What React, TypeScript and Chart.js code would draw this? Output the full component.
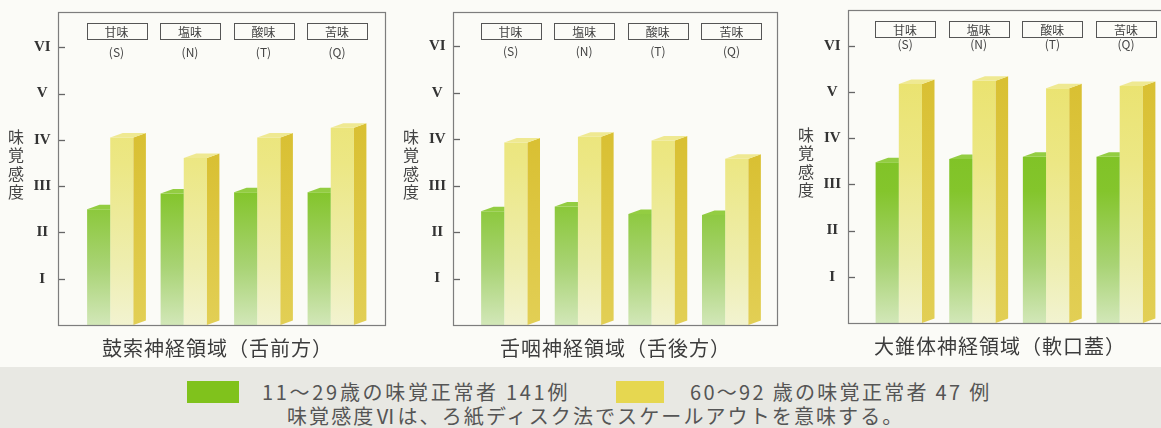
import React, { useEffect, useRef } from 'react';
import { Chart, registerables } from 'chart.js';

Chart.register(...registerables);

// ---- data ----
const TASTES = ['甘味', '塩味', '酸味', '苦味'];
const TASTE_CODES = ['(S)', '(N)', '(T)', '(Q)'];
const ROMAN = ['', 'I', 'II', 'III', 'IV', 'V', 'VI'];
const Y_TITLE = '味覚感度';
const PANEL_TITLES = ['鼓索神経領域（舌前方）', '舌咽神経領域（舌後方）', '大錐体神経領域（軟口蓋）'];
const SERIES_NAMES = ['11～29歳の味覚正常者 141例', '60～92 歳の味覚正常者 47 例'];
const NOTE = '味覚感度Ⅵは、ろ紙ディスク法でスケールアウトを意味する。';

const YOUNG_CHORDA = [2.5, 2.84, 2.87, 2.87];
const OLD_CHORDA = [4.05, 3.61, 4.05, 4.26];
const YOUNG_GLOSSO = [2.45, 2.55, 2.39, 2.37];
const OLD_GLOSSO = [3.93, 4.05, 3.97, 3.58];
const YOUNG_PETROSAL = [3.48, 3.55, 3.6, 3.6];
const OLD_PETROSAL = [5.17, 5.24, 5.08, 5.13];

const YOUNG = [YOUNG_CHORDA, YOUNG_GLOSSO, YOUNG_PETROSAL];
const OLD = [OLD_CHORDA, OLD_GLOSSO, OLD_PETROSAL];

// ---- layout / style ----
const H = 372;
const Y_MAX = 6.34;
const DX = 12.5;
const DY = 4.5;
const JP = '"Noto Sans CJK JP", "Noto Sans", sans-serif';

const PANELS = [
  { canvasLeft: 0, canvasWidth: 395, boxLeft: 58, boxRight: 385, innerLeft: 73.5, innerRight: 367.5, top: 12, bottom: 325, subDy: 40, titleX: 217.5 },
  { canvasLeft: 395, canvasWidth: 395, boxLeft: 453, boxRight: 777, innerLeft: 467.5, innerRight: 762, top: 12, bottom: 325, subDy: 39, titleX: 615.5 },
  { canvasLeft: 790, canvasWidth: 371, boxLeft: 848, boxRight: 1175, innerLeft: 862, innerRight: 1156.5, top: 10, bottom: 323, subDy: 34, titleX: 1000 },
];

const GREEN = '#80c21c';
const YELLOW = '#e6d750';

function vGrad(chart: any, stops: [number, string][]) {
  const ca = chart.chartArea;
  if (!ca) return stops[0][1];
  const g = chart.ctx.createLinearGradient(0, ca.top, 0, ca.bottom);
  stops.forEach(([o, c]) => g.addColorStop(o, c));
  return g;
}

function Panel({ index }: { index: number }) {
  const ref = useRef<HTMLCanvasElement>(null);
  const p = PANELS[index];

  useEffect(() => {
    const canvas = ref.current!;
    const L = p.canvasLeft;

    const decor = {
      id: 'decor' + index,
      afterDatasetsDraw(chart: any) {
        const ctx = chart.ctx;
        ctx.save();
        const m0 = chart.getDatasetMeta(0);
        const m1 = chart.getDatasetMeta(1);
        // green top faces (side hidden behind yellow bar)
        m0.data.forEach((bar: any) => {
          const { x, y, width } = bar.getProps(['x', 'y', 'width'], true);
          const x0 = x - width / 2;
          const x1 = x + width / 2;
          ctx.beginPath();
          ctx.moveTo(x0, y);
          ctx.lineTo(x0 + DX, y - DY);
          ctx.lineTo(x1, y - DY);
          ctx.lineTo(x1, y);
          ctx.closePath();
          ctx.fillStyle = '#93cd42';
          ctx.fill();
        });
        m1.data.forEach((bar: any) => {
          const { x, y, base, width } = bar.getProps(['x', 'y', 'base', 'width'], true);
          const x0 = x - width / 2;
          const x1 = x + width / 2;
          // side
          const sg = ctx.createLinearGradient(0, y, 0, base);
          sg.addColorStop(0, '#d9c033');
          sg.addColorStop(1, '#e2cf55');
          ctx.beginPath();
          ctx.moveTo(x1, y);
          ctx.lineTo(x1 + DX, y - DY);
          ctx.lineTo(x1 + DX, base - DY);
          ctx.lineTo(x1, base);
          ctx.closePath();
          ctx.fillStyle = sg;
          ctx.fill();
          // top
          ctx.beginPath();
          ctx.moveTo(x0, y);
          ctx.lineTo(x0 + DX, y - DY);
          ctx.lineTo(x1 + DX, y - DY);
          ctx.lineTo(x1, y);
          ctx.closePath();
          ctx.fillStyle = '#efe992';
          ctx.fill();
        });
        ctx.restore();
      },
      afterDraw(chart: any) {
        const ctx = chart.ctx;
        const ys = chart.scales.y;
        const xs = chart.scales.x;
        ctx.save();
        // frame
        ctx.strokeStyle = '#7d7d7d';
        ctx.lineWidth = 1.2;
        ctx.strokeRect(p.boxLeft - L + 0.5, p.top + 0.5, p.boxRight - p.boxLeft, p.bottom - p.top);
        // tick marks inside frame
        ctx.strokeStyle = '#666';
        ctx.lineWidth = 1.3;
        for (let v = 1; v < ROMAN.length; v++) {
          const py = Math.round(ys.getPixelForValue(v)) + 0.5;
          ctx.beginPath();
          ctx.moveTo(p.boxLeft - L + 1, py);
          ctx.lineTo(p.boxLeft - L + 7, py);
          ctx.stroke();
        }
        // vertical y title
        ctx.fillStyle = '#444';
        ctx.font = `16px ${JP}`;
        ctx.textAlign = 'center';
        ctx.textBaseline = 'middle';
        Array.from(Y_TITLE).forEach((ch, i) => {
          ctx.fillText(ch, p.boxLeft - L - 42, p.top + 125 + i * 18.3);
        });
        // category labels in boxes
        TASTES.forEach((t, i) => {
          const cx = xs.getPixelForValue(i) + DX / 2;
          ctx.strokeStyle = '#555';
          ctx.lineWidth = 1;
          ctx.strokeRect(Math.round(cx - 30) + 0.5, p.top + 11.5, 60, 16);
          ctx.fillStyle = '#444';
          ctx.font = `12px ${JP}`;
          ctx.fillText(t, cx, p.top + 20);
          ctx.fillText(TASTE_CODES[i], cx, p.top + p.subDy);
        });
        // x title
        ctx.fillStyle = '#3c3c3c';
        ctx.font = `20px ${JP}`;
        (ctx as any).letterSpacing = '1px';
        ctx.fillText(PANEL_TITLES[index], p.titleX - L, p.bottom + 23);
        ctx.restore();
      },
    };

    const chart = new Chart(canvas, {
      type: 'bar',
      data: {
        labels: TASTES,
        datasets: [
          {
            label: SERIES_NAMES[0],
            data: YOUNG[index],
            backgroundColor: (c: any) =>
              vGrad(c.chart, [
                [0, '#74bc14'],
                [0.55, '#84c52c'],
                [0.8, '#a8d374'],
                [1, '#d2e7b8'],
              ]),
            borderWidth: 0,
          },
          {
            label: SERIES_NAMES[1],
            data: OLD[index],
            backgroundColor: (c: any) =>
              vGrad(c.chart, [
                [0, '#e9e064'],
                [0.45, '#ece784'],
                [0.8, '#eeeeb0'],
                [1, '#f2f3d0'],
              ]),
            borderWidth: 0,
          },
        ],
      },
      options: {
        responsive: false,
        animation: false,
        devicePixelRatio: 1,
        categoryPercentage: 0.63,
        barPercentage: 1,
        layout: {
          padding: {
            left: 0,
            top: p.top,
            bottom: 0,
            right: p.canvasWidth - (p.innerRight - L),
          },
        },
        plugins: { legend: { display: false }, tooltip: { enabled: false } },
        scales: {
          x: {
            type: 'category',
            offset: true,
            grid: { display: false, drawTicks: false },
            border: { display: false },
            ticks: { display: false },
            afterFit: (s: any) => {
              s.height = H - p.bottom;
            },
          },
          y: {
            min: 0,
            max: Y_MAX,
            grid: { display: false, drawTicks: false },
            border: { display: false },
            ticks: {
              stepSize: 1,
              includeBounds: false,
              autoSkip: false,
              crossAlign: 'center',
              padding: p.innerLeft - p.boxLeft + 7,
              color: '#333',
              font: { family: '"Liberation Serif", serif', size: 15, weight: 'bold' },
              callback: (v: any) => (Number.isInteger(v) ? ROMAN[v] : ''),
            },
            afterFit: (s: any) => {
              s.width = p.innerLeft - L;
            },
          },
        },
      } as any,
      plugins: [decor],
    });
    return () => chart.destroy();
  }, []);

  return (
    <canvas
      ref={ref}
      width={p.canvasWidth}
      height={H}
      style={{ position: 'absolute', left: p.canvasLeft, top: 0, width: p.canvasWidth, height: H }}
    />
  );
}

export default function App() {
  const textStyle: React.CSSProperties = {
    position: 'absolute',
    fontFamily: JP,
    fontSize: 20,
    lineHeight: '24px',
    color: '#555',
    whiteSpace: 'nowrap',
  };
  return (
    <div
      style={{
        position: 'fixed',
        left: 0,
        top: 0,
        width: 1161,
        height: 428,
        overflow: 'hidden',
        background: '#fbfbf7',
      }}
    >
      <div style={{ position: 'absolute', left: 0, top: 367, width: 1161, height: 61, background: '#e8e8e3' }} />
      {PANELS.map((_, i) => (
        <Panel key={i} index={i} />
      ))}
      <div style={{ position: 'absolute', left: 187, top: 381, width: 52, height: 22, background: GREEN }} />
      <div style={{ ...textStyle, left: 262, top: 380, letterSpacing: '2.7px' }}>{SERIES_NAMES[0]}</div>
      <div style={{ position: 'absolute', left: 616, top: 381, width: 48, height: 22, background: YELLOW }} />
      <div style={{ ...textStyle, left: 690, top: 380, letterSpacing: '2.3px' }}>{SERIES_NAMES[1]}</div>
      <div style={{ ...textStyle, left: 287, top: 404, letterSpacing: '2.1px' }}>{NOTE}</div>
    </div>
  );
}
